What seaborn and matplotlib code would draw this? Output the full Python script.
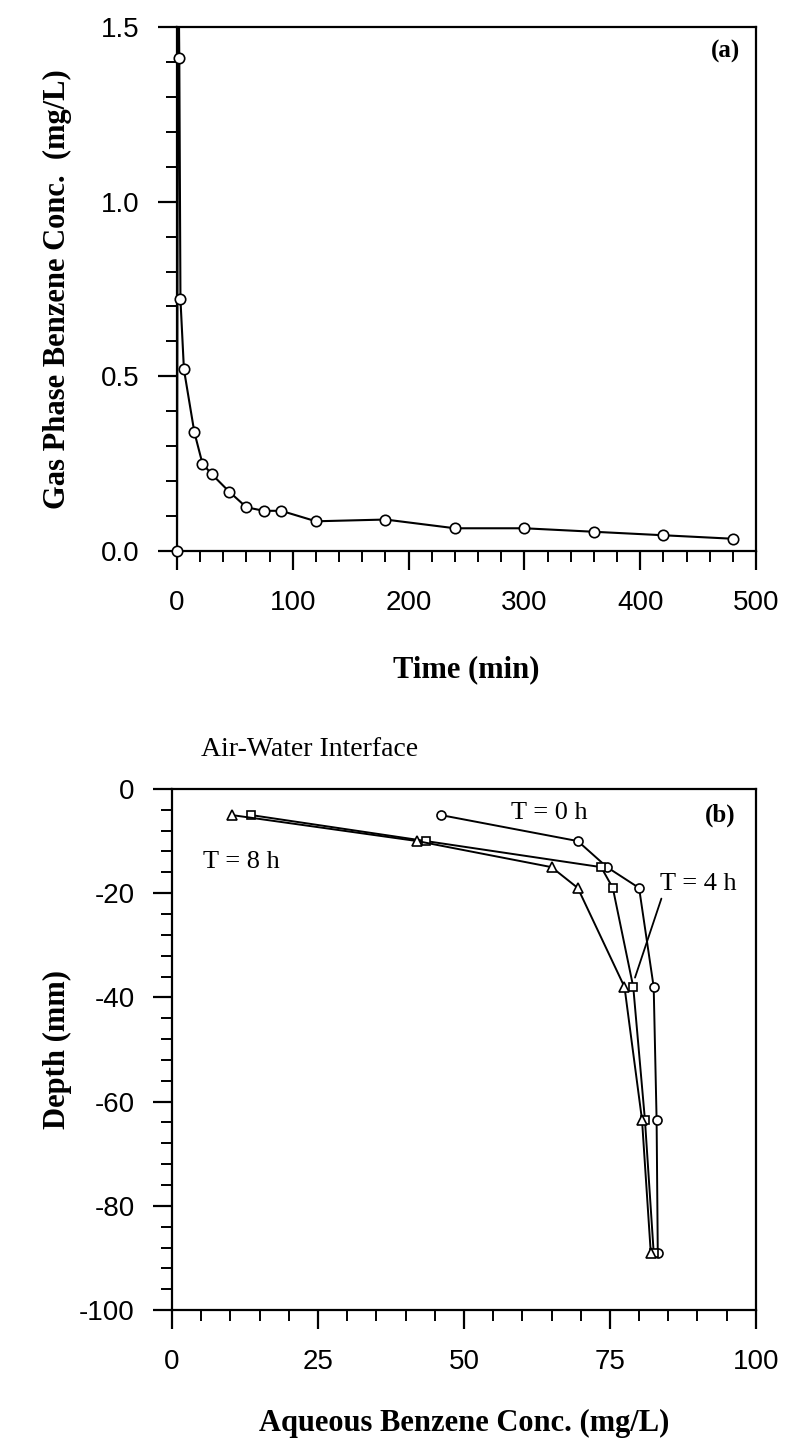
import numpy as np
import pandas as pd
import matplotlib
matplotlib.use('Agg')
import matplotlib.pyplot as plt
from matplotlib.ticker import MultipleLocator, FormatStrFormatter
import seaborn as sns

sns.set_style('ticks')
plt.rcParams['font.family'] = ['Liberation Sans', 'DejaVu Sans']
plt.rcParams['axes.unicode_minus'] = False
plt.rcParams['text.color'] = 'black'
plt.rcParams['axes.labelcolor'] = 'black'

# (a) gas phase benzene vs time (first peak above 1.5 is clipped in the original)
time_min = [0, 1, 2, 3, 6, 15, 22, 30, 45, 60, 75, 90, 120, 180, 240, 300, 360, 420, 480]
gas_conc = [0.0, 1.8, 1.41, 0.72, 0.52, 0.34, 0.25, 0.22, 0.17, 0.125, 0.115, 0.115,
            0.085, 0.09, 0.065, 0.065, 0.055, 0.045, 0.035]

# (b) aqueous benzene profiles vs depth
depth_mm = [-5, -10, -15, -19, -38, -63.5, -89]
aq_t0 = [46, 69.5, 74.5, 80, 82.5, 83, 83.2]
aq_t4 = [13.5, 43.5, 73.5, 75.5, 79, 81, 82.5]
aq_t8 = [10.2, 42, 65, 69.5, 77.5, 80.5, 82]

SERIF = ['Liberation Serif', 'DejaVu Serif']

df_a = pd.DataFrame({'time': time_min, 'conc': gas_conc})

fig = plt.figure(figsize=(7.89, 14.45), dpi=100)
ax1 = fig.add_axes([0.2243, 0.6187, 0.734, 0.3626])
ax2 = fig.add_axes([0.218, 0.0934, 0.740, 0.3606])

mk_kw = dict(markerfacecolor='white', markeredgecolor='black', markeredgewidth=1.2)

# line (clipped at the frame) + markers (not clipped, so the point at the origin shows)
sns.lineplot(data=df_a, x='time', y='conc', sort=False, estimator=None,
             color='black', linewidth=1.5, ax=ax1)
in_range = df_a[df_a['conc'] <= 1.5]
ax1.plot(in_range['time'], in_range['conc'], linestyle='none', marker='o',
         markersize=7.5, clip_on=False, zorder=5, **mk_kw)

for vals, mk, ms in [(aq_t0, 'o', 6.5), (aq_t4, 's', 6), (aq_t8, '^', 6.5)]:
    d = pd.DataFrame({'conc': vals, 'depth': depth_mm})
    sns.lineplot(data=d, x='conc', y='depth', sort=False, estimator=None,
                 color='black', linewidth=1.4, marker=mk, markersize=ms, ax=ax2, **mk_kw)

# axes styling
ax1.set_xlim(0, 500)
ax1.set_ylim(0, 1.5)
ax1.xaxis.set_major_locator(MultipleLocator(100))
ax1.xaxis.set_minor_locator(MultipleLocator(20))
ax1.yaxis.set_major_locator(MultipleLocator(0.5))
ax1.yaxis.set_minor_locator(MultipleLocator(0.1))
ax1.yaxis.set_major_formatter(FormatStrFormatter('%.1f'))

ax2.set_xlim(0, 100)
ax2.set_ylim(-100, 0)
ax2.xaxis.set_major_locator(MultipleLocator(25))
ax2.xaxis.set_minor_locator(MultipleLocator(5))
ax2.yaxis.set_major_locator(MultipleLocator(20))
ax2.yaxis.set_minor_locator(MultipleLocator(4))

for ax in (ax1, ax2):
    for sp in ax.spines.values():
        sp.set_linewidth(1.6)
        sp.set_color('black')
    ax.tick_params(which='major', direction='out', length=14, width=1.6,
                   labelsize=20, colors='black', top=False, right=False)
    ax.tick_params(which='minor', direction='out', length=8, width=1.4,
                   colors='black', top=False, right=False)
    ax.tick_params(axis='y', which='major', pad=13)
    ax.tick_params(axis='x', which='major', pad=14)

ax1.set_xlabel('Time (min)', fontsize=22, fontweight='bold', family=SERIF)
ax1.set_ylabel('Gas Phase Benzene Conc.  (mg/L)', fontsize=22, fontweight='bold',
               family=SERIF)
ax2.set_xlabel('Aqueous Benzene Conc. (mg/L)', fontsize=22, fontweight='bold',
               family=SERIF)
ax2.set_ylabel('Depth (mm)', fontsize=22, fontweight='bold', family=SERIF)
ax1.xaxis.set_label_coords(0.5, -0.198)
ax1.yaxis.set_label_coords(-0.181, 0.5)
ax2.xaxis.set_label_coords(0.5, -0.19)
ax2.yaxis.set_label_coords(-0.171, 0.5)

ax1.text(486, 1.43, '(a)', fontsize=18, fontweight='bold', family=SERIF,
         ha='right', va='center')
ax2.text(96.5, -5, '(b)', fontsize=18, fontweight='bold', family=SERIF,
         ha='right', va='center')

ax2.text(58, -4.6, 'T = 0 h', fontsize=19, family=SERIF, ha='left', va='center')
ax2.text(5.3, -14, 'T = 8 h', fontsize=19, family=SERIF, ha='left', va='center')
ax2.annotate('T = 4 h', xy=(79.3, -36.2), xytext=(83.6, -18.3), fontsize=19,
             family=SERIF, ha='left', va='center',
             arrowprops=dict(arrowstyle='-', color='black', lw=1.3,
                             shrinkA=0, shrinkB=0, relpos=(0.05, 0.2)))
ax2.text(5, 7.5, 'Air-Water Interface', fontsize=20, family=SERIF,
         ha='left', va='center', clip_on=False)

fig.savefig('out.png', dpi=100)
